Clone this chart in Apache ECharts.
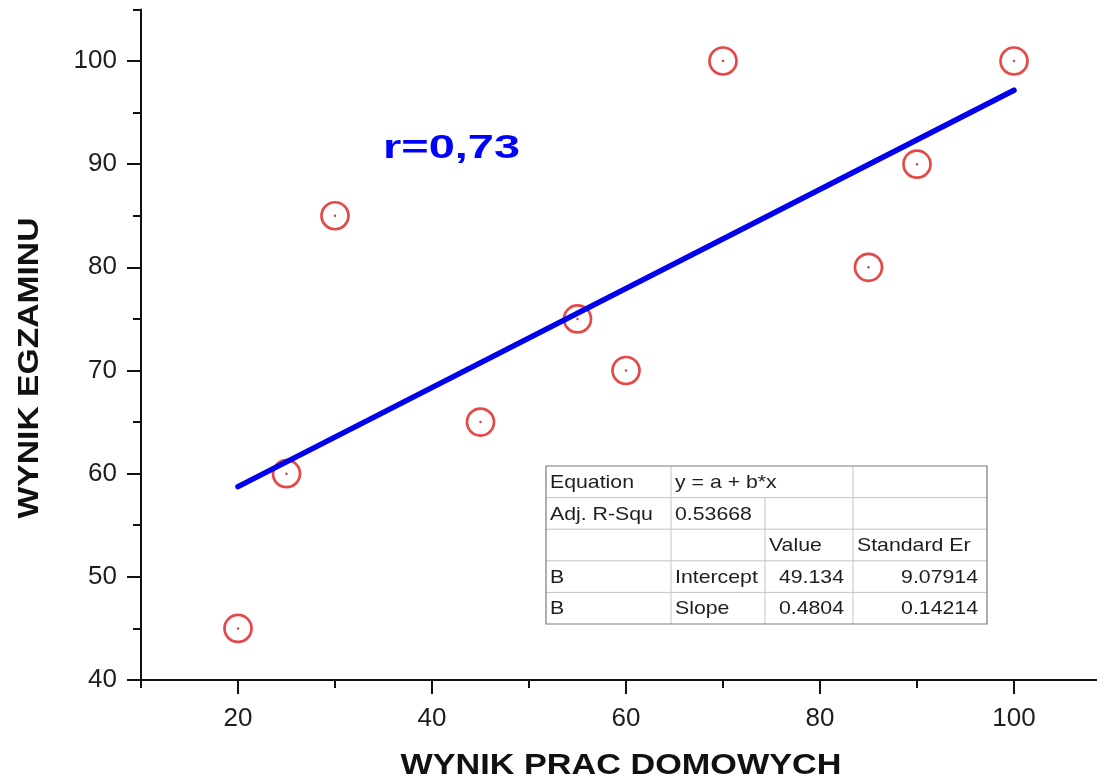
<!DOCTYPE html>
<html>
<head>
<meta charset="utf-8">
<script src="https://cdn.jsdelivr.net/npm/echarts@6/dist/echarts.min.js"></script>
<style>html,body{margin:0;padding:0;background:#fff;}#c{width:1097px;height:783px;}</style>
</head>
<body>
<div id="c"></div>
<script>
// ---- data ----
const homework = [20, 25, 30, 45, 55, 60, 70, 85, 90, 100];
const exam     = [45, 60, 85, 65, 75, 70, 100, 80, 90, 100];
const fitX = [20, 100];
const fitY = [58.74, 97.17];
const xTitle = 'WYNIK PRAC DOMOWYCH';
const yTitle = 'WYNIK EGZAMINU';
const rText = 'r=0,73';
const tableRows = [
  ['Equation', 'y = a + b*x', '', ''],
  ['Adj. R-Squ', '0.53668', '', ''],
  ['', '', 'Value', 'Standard Er'],
  ['B', 'Intercept', '49.134', '9.07914'],
  ['B', 'Slope', '0.4804', '0.14214']
];

const points = homework.map((x, i) => [x, exam[i]]);
const fitLine = fitX.map((x, i) => [x, fitY[i]]);

const FONT = '"Liberation Sans", Arial, sans-serif';

// ---- table graphics ----
const colX = [546, 671, 765, 853, 987];
const rowTop = 466, rowH = 31.6;
const tbl = [];
tbl.push({type:'rect', shape:{x:colX[0], y:rowTop, width:colX[4]-colX[0], height:rowH*5}, style:{fill:'#fff', stroke:null}, z:10});
for (let r = 1; r < 5; r++) {
  tbl.push({type:'line', shape:{x1:colX[0], y1:rowTop+r*rowH, x2:colX[4], y2:rowTop+r*rowH}, style:{stroke:'#c4c4c4', lineWidth:1}, z:11});
}
for (let c = 1; c < 4; c++) {
  const startRow = (c === 2) ? 1 : 0;
  tbl.push({type:'line', shape:{x1:colX[c], y1:rowTop+startRow*rowH, x2:colX[c], y2:rowTop+5*rowH}, style:{stroke:'#c4c4c4', lineWidth:1}, z:11});
}
tbl.push({type:'rect', shape:{x:colX[0], y:rowTop, width:colX[4]-colX[0], height:rowH*5}, style:{fill:null, stroke:'#7a7a7a', lineWidth:1.2}, z:12});
tableRows.forEach((row, r) => {
  row.forEach((txt, c) => {
    if (!txt) return;
    const rightAlign = (c >= 2 && r >= 3);
    const x = rightAlign ? colX[c+1] - 9 : colX[c] + 4;
    tbl.push({
      type:'text', x:x, y:rowTop + r*rowH + rowH/2 + 1, scaleX:1.12, z:13,
      style:{text:txt, fontFamily:FONT, fontSize:19, fill:'#1e1e1e', textAlign: rightAlign ? 'right' : 'left', textVerticalAlign:'middle'}
    });
  });
});

const chart = echarts.init(document.getElementById('c'), null, {renderer:'canvas'});
const tickStyle = {color:'#111', width:2};
const hidden = {show:false};
const blackLine = {show:true, onZero:false, lineStyle:{color:'#111', width:2}};
const blankLabel = {show:true, formatter:() => ''};
chart.setOption({
  animation:false,
  backgroundColor:'#fff',
  grid:[
    {left:141, right:-14, top:9.4, bottom:103, containLabel:false, outerBoundsMode:'none'},
    {left:238, right:83, top:9.4, bottom:103, containLabel:false, outerBoundsMode:'none'},
    {left:141, right:-14, top:61, bottom:103, containLabel:false, outerBoundsMode:'none'}
  ],
  xAxis:[
    {gridIndex:0, type:'value', min:10, max:110, interval:10, position:'bottom',
     axisLine:blackLine,
     axisTick:{show:true, inside:false, length:8, lineStyle:tickStyle},
     axisLabel:{show:true, margin:26, fontFamily:FONT, fontSize:26, color:'#1e1e1e',
       formatter:v => (v % 20 === 0 && v >= 20 && v <= 100) ? String(v) : ''},
     splitLine:hidden},
    {gridIndex:1, type:'value', min:20, max:100, interval:20, position:'bottom',
     axisLine:blackLine, axisTick:{show:true, inside:false, length:14, lineStyle:tickStyle},
     axisLabel:blankLabel, splitLine:hidden},
    {gridIndex:2, type:'value', min:10, max:110, interval:10, position:'bottom',
     axisLine:hidden, axisTick:hidden, axisLabel:hidden, splitLine:hidden}
  ],
  yAxis:[
    {gridIndex:0, type:'value', min:40, max:105, interval:5, position:'left',
     axisLine:blackLine,
     axisTick:{show:true, inside:false, length:8, lineStyle:tickStyle},
     axisLabel:{show:true, margin:24, fontFamily:FONT, fontSize:26, color:'#1e1e1e',
       formatter:v => (v % 10 === 0) ? String(v) : ''},
     splitLine:hidden},
    {gridIndex:1, type:'value', min:40, max:105, interval:5, position:'left',
     axisLine:hidden, axisTick:hidden, axisLabel:hidden, splitLine:hidden},
    {gridIndex:2, type:'value', min:40, max:100, interval:10, position:'left',
     axisLine:blackLine, axisTick:{show:true, inside:false, length:14, lineStyle:tickStyle},
     axisLabel:blankLabel, splitLine:hidden}
  ],
  series:[
    {type:'scatter', xAxisIndex:0, yAxisIndex:0, data:points, symbol:'circle', symbolSize:27,
     itemStyle:{color:'rgba(0,0,0,0)', borderColor:'#e01a1a', borderWidth:2.7}, z:3},
    {type:'scatter', xAxisIndex:0, yAxisIndex:0, data:points, symbol:'circle', symbolSize:2.5,
     itemStyle:{color:'#b02020'}, z:3},
    {type:'line', xAxisIndex:0, yAxisIndex:0, data:fitLine, showSymbol:false, symbol:'none',
     lineStyle:{color:'#0000ee', width:5.5, cap:'round'}, z:5},
    // invisible helper series so the tick-only axes have a non-blank scale
    {type:'scatter', xAxisIndex:1, yAxisIndex:1, data:points, symbolSize:0, silent:true, itemStyle:{opacity:0}},
    {type:'scatter', xAxisIndex:2, yAxisIndex:2, data:points, symbolSize:0, silent:true, itemStyle:{opacity:0}}
  ],
  graphic:[
    {type:'text', x:383, y:149, scaleX:1.38, z:20,
     style:{text:rText, fontFamily:FONT, fontWeight:'bold', fontSize:34, fill:'#0000ff', textAlign:'left', textVerticalAlign:'middle'}},
    {type:'text', x:621, y:766, scaleX:1.18, z:20,
     style:{text:xTitle, fontFamily:FONT, fontWeight:'bold', fontSize:29, fill:'#111', textAlign:'center', textVerticalAlign:'middle'}},
    {type:'text', x:30, y:368, rotation:Math.PI/2, scaleX:1.16, z:20,
     style:{text:yTitle, fontFamily:FONT, fontWeight:'bold', fontSize:29, fill:'#111', textAlign:'center', textVerticalAlign:'middle'}}
  ].concat(tbl)
});
</script>
</body>
</html>
